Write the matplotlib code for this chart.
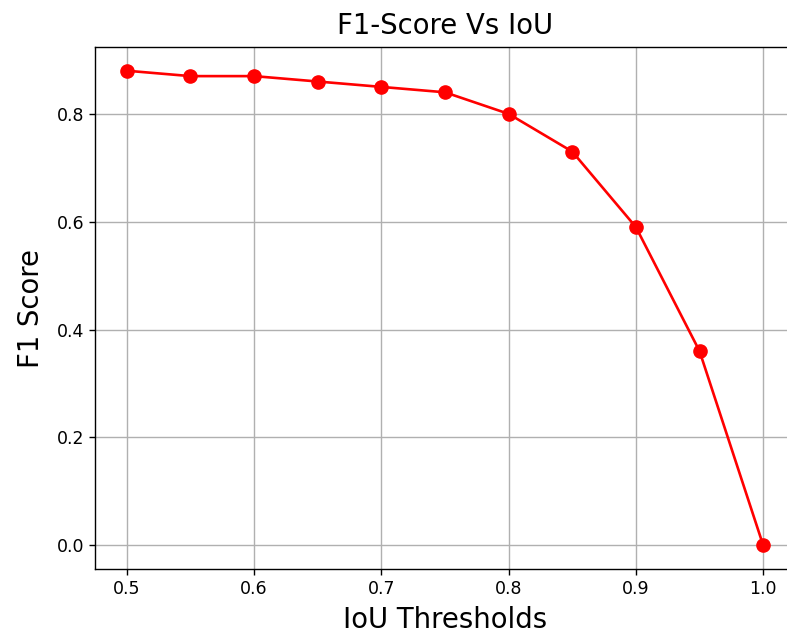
import matplotlib
matplotlib.use("Agg")
import matplotlib.pyplot as plt

iou_thresholds = [0.5, 0.55, 0.6, 0.65, 0.7, 0.75, 0.8, 0.85, 0.9, 0.95, 1.0]
f1_scores = [0.88, 0.87, 0.87, 0.86, 0.85, 0.84, 0.80, 0.73, 0.59, 0.36, 0.0]

fig = plt.figure(figsize=(7.87, 6.35), dpi=100)
ax = fig.add_axes([95/787, 1-569/635, (795-95)/787, (569-47)/635])
ax.plot(iou_thresholds, f1_scores, color='red', marker='o', markersize=9.5, linewidth=1.9)
ax.set_title('F1-Score Vs IoU', fontsize=19.8, pad=9)
ax.set_xlabel('IoU Thresholds', fontsize=19.8, labelpad=6)
ax.set_ylabel('F1 Score', fontsize=19.8, labelpad=8)
ax.tick_params(labelsize=12.5, length=4.4, width=1.0)
ax.grid(True, color='#b0b0b0', linewidth=1.0)
for s in ax.spines.values():
    s.set_linewidth(1.0)
fig.savefig('out.png', dpi=100)
